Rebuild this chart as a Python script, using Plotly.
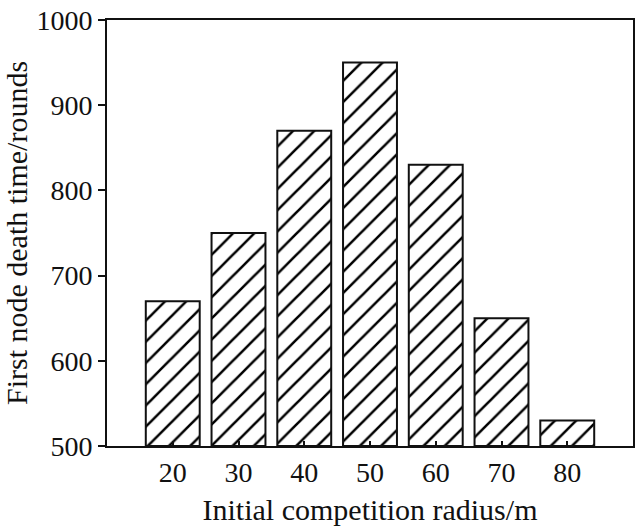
import plotly.graph_objects as go

radius = [20, 30, 40, 50, 60, 70, 80]
death_time = [670, 750, 870, 950, 830, 650, 530]
y_ticks = [500, 600, 700, 800, 900, 1000]
y_base = 500

fig = go.Figure(go.Bar(
    x=radius, y=[v - y_base for v in death_time], base=y_base,
    width=8.2,
    marker=dict(color="white",
                line=dict(color="#111", width=2),
                pattern=dict(shape="/", size=15, solidity=0.17, fgcolor="#000",
                             fgopacity=1, bgcolor="white", fillmode="replace")),
))

font = dict(family="Liberation Serif, Times New Roman, serif", color="#111")
fig.update_layout(
    width=638, height=526,
    margin=dict(l=107, r=3, t=20, b=80),
    plot_bgcolor="white", paper_bgcolor="white",
    showlegend=False,
    font=font,
    xaxis=dict(range=[10, 90], tickvals=radius, ticktext=[str(r) for r in radius],
               ticks="inside", ticklen=5, tickwidth=1.5, tickcolor="#111",
               showline=True, linecolor="#111", linewidth=2, mirror=True,
               showgrid=False, zeroline=False, tickfont=dict(size=28, **font),
               title=dict(text="Initial competition radius/m", font=dict(size=30, **font), standoff=12)),
    yaxis=dict(range=[500, 1000], tickvals=y_ticks,
               ticks="outside", ticklen=7, tickwidth=2, tickcolor="#111",
               showline=True, linecolor="#111", linewidth=2, mirror=True,
               showgrid=False, zeroline=False, tickfont=dict(size=28, **font),
               title=dict(text="First node death time/rounds", font=dict(size=30, **font), standoff=8)),
)
fig.write_html("out.html")
